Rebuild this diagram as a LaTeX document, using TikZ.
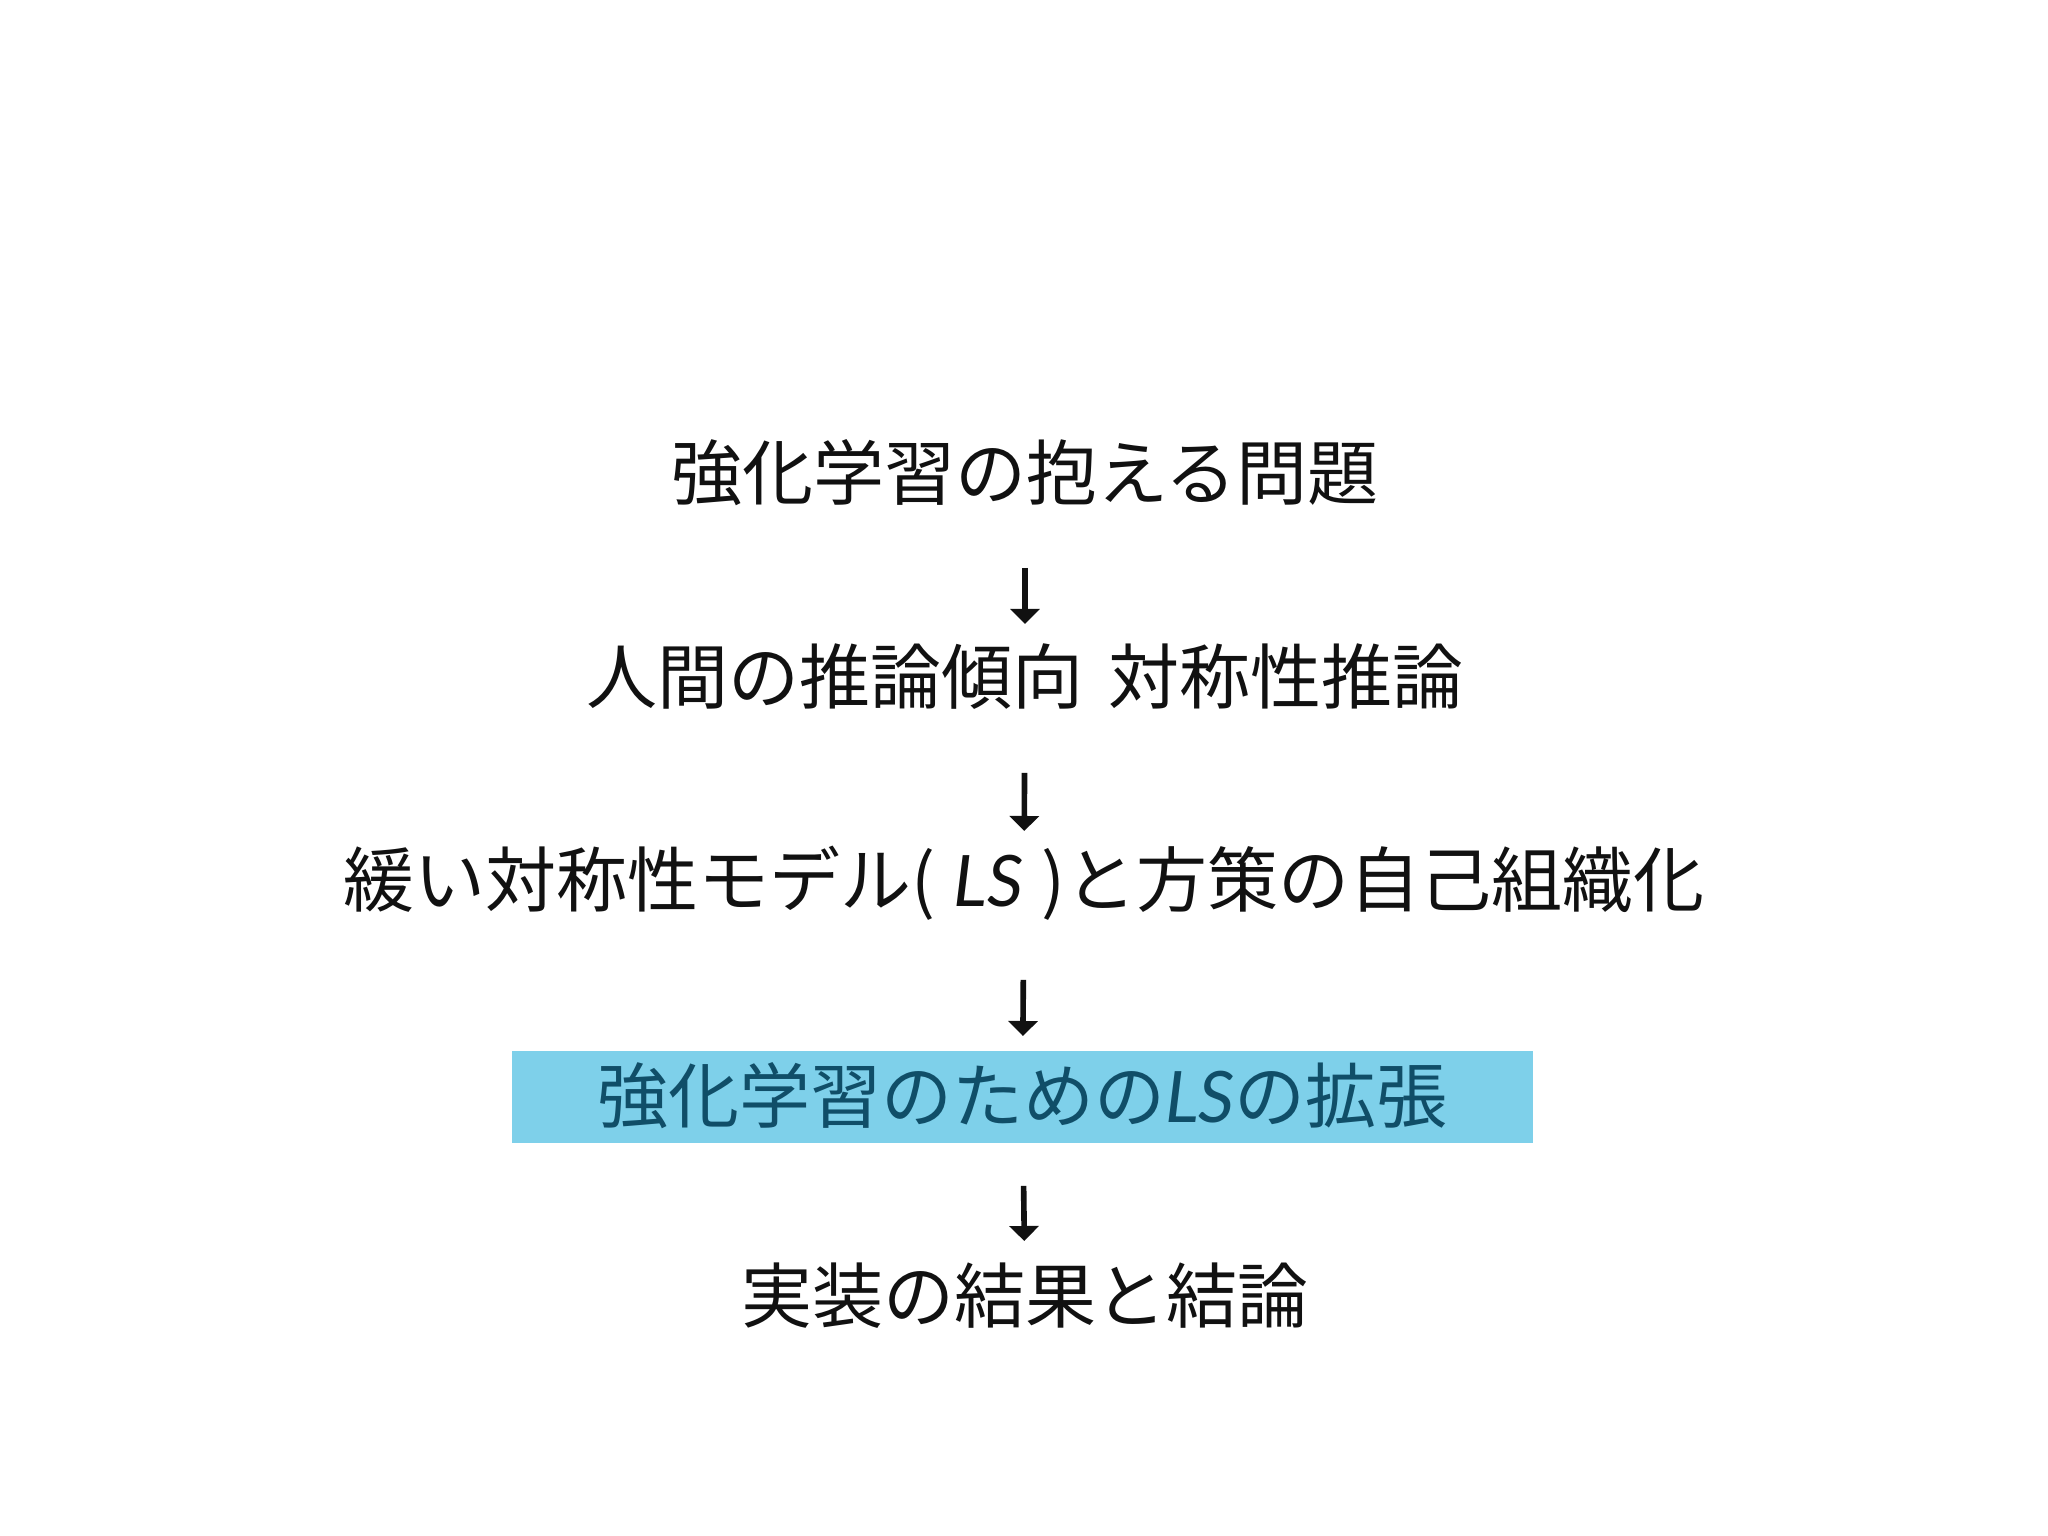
\documentclass[tikz,border=0pt]{standalone}
\usepackage{fontspec}
\usetikzlibrary{arrows.meta}
\newfontfamily\jp{Noto Sans CJK JP}
\newfontfamily\latin{Lato}
\definecolor{boxfill}{RGB}{126,208,234}
\definecolor{boxtext}{RGB}{16,78,104}
\definecolor{ink}{RGB}{17,17,17}
\tikzset{
  line/.style={font=\jp\fontsize{20.2}{24}\selectfont, text=ink, inner sep=0pt, anchor=center},
  hl/.style={line, text=boxtext, fill=boxfill, minimum width=10.21cm, minimum height=0.92cm},
  arr/.style={draw=ink, line width=1.6pt, -{Triangle[width=0.29cm,length=0.15cm]}}
}
\newcommand{\lsit}{{\latin\itshape LS}}
\begin{document}
\begin{tikzpicture}
\useasboundingbox[fill=white] (0,0) rectangle (20.48,15.36);
\node[line] (t1) at (10.25,10.63) {強化学習の抱える問題};
\node[line] (t2) at (10.25,8.59) {人間の推論傾向\hspace{0.35em}対称性推論};
\node[line] (t3) at (10.24,6.53) {緩い対称性モデル(\hspace{0.25em}\lsit\hspace{0.25em})と方策の自己組織化};
\node[hl, text depth=0.08cm] (t4) at (10.225,4.39) {強化学習のための\lsit の拡張};
\node[line] (t5) at (10.25,2.40) {実装の結果と結論};
\draw[arr, shorten <=0.95cm, shorten >=0.53cm] (t1.center) -- (t2.center);
\draw[arr, shorten <=0.96cm, shorten >=0.52cm] (t2.center) -- (t3.center);
\draw[arr, shorten <=0.97cm, shorten >=0.61cm] (t3.center) -- (t4.center);
\draw[arr, shorten <=0.89cm, shorten >=0.55cm] (t4.center) -- (t5.center);
\end{tikzpicture}
\end{document}
